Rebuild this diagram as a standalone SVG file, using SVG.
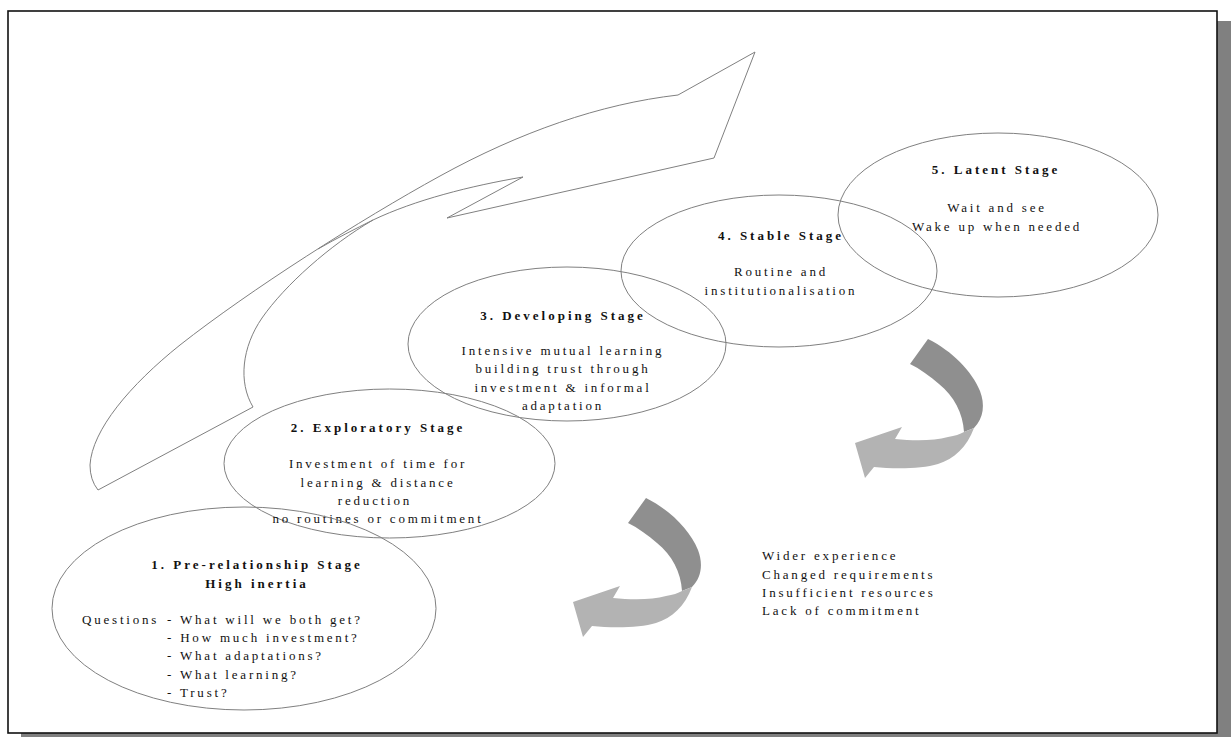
<svg xmlns="http://www.w3.org/2000/svg" xmlns:xlink="http://www.w3.org/1999/xlink" width="1231" height="737" viewBox="0 0 1231 737">
<style>
.ell{fill:none;stroke:#808080;stroke-width:1}
.t{font-family:"Liberation Serif",serif;font-size:13px;letter-spacing:2.8px;fill:#111}
.b{font-family:"Liberation Serif",serif;font-size:13px;font-weight:bold;letter-spacing:3px;fill:#111}
.c{text-anchor:middle}
.outline{fill:none;stroke:#808080;stroke-width:1}
.dark{fill:#8f8f8f}
.light{fill:#b3b3b3}
</style>
<defs>
<g id="curl">
<path class="dark" d="M 628,523 L 646,498 C 670,510 690,530 698,550 C 703,563 702,577 692,587 L 682,591 C 681,572 672,555 657,543 C 648,535 638,528 628,523 Z"/>
<path class="light" d="M 682,591 L 692,587 C 685,606 672,618 656,623 C 640,628 612,628 592,626 L 583,637 L 573,602 L 620,586 L 613,598 C 632,600 652,600 666,596 C 673,595 678,593 682,591 Z"/>
</g>
</defs>
<rect x="0" y="0" width="1231" height="737" fill="#ffffff"/>
<rect x="21" y="21" width="1210" height="716" fill="#808080"/>
<rect x="8" y="11" width="1209" height="722" fill="#ffffff" stroke="#111" stroke-width="1.6"/>

<g id="big-arrow">
<path class="outline" d="M 678,95 L 755,52 L 714,158 L 447,218 L 523,177 C 470,186 415,200 373,220 C 330,245 285,285 262,318 C 242,347 238,382 253,407 L 98,490 Q 90,480 90,465 C 92,430 130,385 180,345 C 250,290 360,220 440,176 C 520,132 600,104 678,95 Z"/>
<path class="outline" d="M 373,220 C 355,229 337,238 318,249"/>
</g>

<g id="connectors">
<use xlink:href="#curl" href="#curl"/>
<use xlink:href="#curl" href="#curl" transform="translate(282,-159)"/>
</g>

<g id="stage5">
<ellipse class="ell" cx="998" cy="215" rx="160" ry="82"/>
<text class="b c" x="996" y="174">5. Latent Stage</text>
<text class="t c" x="997" y="212">Wait and see</text>
<text class="t c" x="997" y="231">Wake up when needed</text>
</g>

<g id="stage4">
<ellipse class="ell" cx="779" cy="271" rx="158" ry="76"/>
<text class="b c" x="781" y="240">4. Stable Stage</text>
<text class="t c" x="781" y="276">Routine and</text>
<text class="t c" x="781" y="295">institutionalisation</text>
</g>

<g id="stage3">
<ellipse class="ell" cx="567" cy="344" rx="159" ry="77"/>
<text class="b c" x="563" y="320">3. Developing Stage</text>
<text class="t c" x="563" y="355">Intensive mutual learning</text>
<text class="t c" x="563" y="373">building trust through</text>
<text class="t c" x="563" y="392">investment &amp; informal</text>
<text class="t c" x="563" y="410">adaptation</text>
</g>

<g id="stage2">
<ellipse class="ell" cx="389.5" cy="463.5" rx="165.5" ry="74.5"/>
<text class="b c" x="378" y="432">2. Exploratory Stage</text>
<text class="t c" x="378" y="468">Investment of time for</text>
<text class="t c" x="378" y="487">learning &amp; distance</text>
<text class="t c" x="375" y="505">reduction</text>
<text class="t c" x="378" y="523">no routines or commitment</text>
</g>

<g id="stage1">
<ellipse class="ell" cx="244" cy="608.5" rx="192" ry="101.5"/>
<text class="b c" x="257" y="569">1. Pre-relationship Stage</text>
<text class="b c" x="257" y="588">High inertia</text>
<text class="t" y="624"><tspan x="82">Questions</tspan><tspan x="167">- What will we both get?</tspan></text>
<text class="t" x="167" y="642">- How much investment?</text>
<text class="t" x="167" y="660">- What adaptations?</text>
<text class="t" x="167" y="679">- What learning?</text>
<text class="t" x="167" y="697">- Trust?</text>
</g>

<g id="factors">
<text class="t" x="762" y="560">Wider experience</text>
<text class="t" x="762" y="579">Changed requirements</text>
<text class="t" x="762" y="597">Insufficient resources</text>
<text class="t" x="762" y="615">Lack of commitment</text>
</g>
</svg>
